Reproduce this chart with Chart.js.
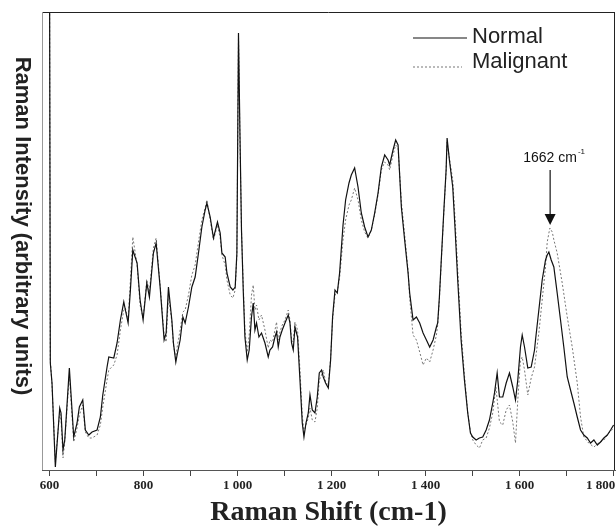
<!DOCTYPE html>
<html>
<head>
<meta charset="utf-8">
<script src="https://cdn.jsdelivr.net/npm/chart.js@4.4.1/dist/chart.umd.min.js"></script>
<style>
  html, body { margin: 0; padding: 0; background: #fff; }
  #ramanChart { display: block; }
</style>
</head>
<body>
<canvas id="ramanChart" width="616" height="530"></canvas>
<script>
// Raman shift (cm-1) / intensity
var normalShift = [600, 601.7, 605.3, 612.4, 621.7, 624.5, 628.7, 632.4, 642.2, 651.5, 658.6, 663.5, 670.7, 676.2, 683.5, 690.5,
  701.2, 708.2, 713.3, 722.4, 726.1, 736.7, 743.7, 750.8, 758, 761.4, 767.2, 772.1, 777.2, 786.3, 792.7, 799.1,
  807, 812.5, 821, 826.8, 835.3, 843.8, 848.1, 853, 860.2, 863.6, 868.7, 872.2, 877.9, 883.7, 888.5, 895.6,
  902.8, 909.8, 916.9, 924.1, 931.1, 934.8, 941.8, 948.8, 957.3, 963.1, 966.7, 973.7, 977.4, 984.4, 990.1, 995,
  998.6, 1002, 1005, 1008.4, 1012.1, 1015.7, 1020.6, 1024.8, 1029.7, 1033.4, 1037, 1040.4, 1045.5, 1051, 1058.3, 1065.3,
  1068.9, 1074.5, 1079.6, 1083, 1086.6, 1090.2, 1095.1, 1100.9, 1107.9, 1111.5, 1114.9, 1118.5, 1122.2, 1127.7, 1132.8, 1137.7,
  1141.3, 1145.6, 1150.5, 1154.1, 1159, 1164.7, 1169.6, 1173.9, 1178.8, 1182.4, 1187.3, 1193.1, 1198, 1202.2, 1207.3, 1212.2,
  1217.1, 1224.4, 1229.9, 1237.1, 1242, 1249.1, 1256.3, 1263.3, 1270.4, 1277.6, 1284.6, 1291.7, 1298.9, 1305.9, 1313, 1320.2,
  1323.6, 1330.8, 1336.4, 1341.5, 1348.5, 1355.5, 1362.8, 1366.2, 1373.4, 1380.5, 1387.5, 1394.7, 1401.8, 1408.8, 1416, 1423.1,
  1425.8, 1429.4, 1433.1, 1438.6, 1443.7, 1445.8, 1450.7, 1457.8, 1462.9, 1468.4, 1475.6, 1482.7, 1489.7, 1495.5, 1500.4, 1507.6,
  1514.6, 1521.6, 1528.9, 1535.9, 1542.9, 1546.6, 1552.3, 1557.2, 1564.2, 1571.5, 1578.5, 1585.5, 1591.3, 1596.2, 1601.9, 1605.6,
  1610.5, 1617.5, 1624.7, 1631.8, 1633.9, 1641, 1648.1, 1655.2, 1658.8, 1662.3, 1667.3, 1672.9, 1680, 1687.1, 1694.1, 1701.4,
  1708.4, 1715.5, 1722.7, 1729.7, 1736.7, 1744, 1751, 1758.1, 1765.3, 1772.3, 1779.3, 1786.6, 1793.6, 1800];
var normalIntensity = [520, 107, 87, 3, 62, 57, 20, 30, 102, 33, 47, 63, 70, 40, 35, 38,
  40, 53, 75, 103, 113, 112, 127, 150, 168, 160, 147, 180, 220, 207, 170, 150,
  187, 173, 217, 227, 183, 130, 137, 183, 150, 127, 108, 117, 130, 153, 147, 163,
  183, 193, 217, 243, 260, 267, 253, 232, 248, 237, 217, 213, 197, 183, 180, 183,
  217, 437, 340, 240, 180, 133, 110, 120, 153, 167, 140, 147, 133, 137, 127, 113,
  120, 123, 133, 138, 123, 133, 140, 147, 155, 147, 127, 120, 143, 133, 90, 47,
  33, 47, 57, 75, 60, 57, 73, 97, 100, 93, 87, 82, 110, 153, 180, 177,
  197, 245, 270, 287, 295, 302, 283, 257, 243, 233, 240, 257, 277, 303, 315, 310,
  305, 320, 330, 325, 263, 230, 197, 177, 150, 153, 147, 137, 130, 123, 130, 143,
  147, 173, 207, 257, 300, 332, 310, 283, 240, 190, 130, 90, 57, 37, 33, 30,
  32, 33, 40, 50, 67, 77, 97, 73, 73, 87, 97, 83, 70, 90, 123, 135,
  123, 102, 103, 120, 130, 160, 190, 210, 215, 218, 210, 203, 177, 150, 123, 93,
  80, 67, 53, 40, 35, 32, 27, 30, 25, 28, 32, 35, 40, 45];

var malignantShift = [600, 601.7, 605.3, 612.4, 621.7, 624.5, 628.7, 632.4, 642.2, 651.5, 658.6, 663.5, 670.7, 676.2, 683.5, 690.5,
  701.2, 708.2, 713.3, 722.4, 726.1, 736.7, 743.7, 750.8, 758, 761.4, 767.2, 772.1, 777.2, 786.3, 792.7, 799.1,
  807, 812.5, 821, 826.8, 835.3, 843.8, 848.1, 853, 860.2, 863.6, 868.7, 872.2, 877.9, 883.7, 888.5, 895.6,
  902.8, 909.8, 916.9, 924.1, 931.1, 934.8, 941.8, 948.8, 957.3, 963.1, 966.7, 973.7, 977.4, 984.4, 990.1, 995,
  998.6, 1002, 1005, 1008.4, 1012.1, 1015.7, 1020.6, 1024.8, 1029.7, 1033.4, 1037, 1040.4, 1045.5, 1051, 1058.3, 1065.3,
  1068.9, 1074.5, 1079.6, 1083, 1086.6, 1090.2, 1095.1, 1100.9, 1107.9, 1111.5, 1114.9, 1118.5, 1122.2, 1127.7, 1132.8, 1137.7,
  1141.3, 1145.6, 1150.5, 1154.1, 1159, 1164.7, 1169.6, 1173.9, 1178.8, 1182.4, 1187.3, 1193.1, 1198, 1202.2, 1207.3, 1212.2,
  1217.1, 1224.4, 1229.9, 1237.1, 1242, 1249.1, 1256.3, 1263.3, 1270.4, 1277.6, 1284.6, 1291.7, 1298.9, 1305.9, 1313, 1320.2,
  1323.6, 1330.8, 1336.4, 1341.5, 1348.5, 1355.5, 1362.8, 1366.2, 1373.4, 1380.5, 1387.5, 1394.7, 1401.8, 1408.8, 1416, 1423.1,
  1425.8, 1429.4, 1433.1, 1438.6, 1443.7, 1445.8, 1450.7, 1457.8, 1462.9, 1468.4, 1475.6, 1482.7, 1489.7, 1495.5, 1500.4, 1507.6,
  1514.6, 1521.6, 1528.9, 1535.9, 1542.9, 1549.6, 1557.2, 1564.2, 1571.5, 1578.5, 1585.5, 1591.3, 1596.2, 1601.9, 1605.6, 1610.5,
  1617.5, 1624.7, 1631.8, 1641, 1648.1, 1655.2, 1658.8, 1664.4, 1669.5, 1673, 1680, 1690.7, 1701.4, 1712, 1722.7, 1729.7,
  1736.7, 1747, 1758.1, 1768, 1779.3, 1790, 1800];
var malignantIntensity = [520, 110, 85, 8, 58, 50, 12, 28, 95, 28, 42, 55, 65, 38, 32, 32,
  35, 45, 63, 90, 100, 105, 115, 140, 160, 162, 150, 190, 233, 205, 165, 152,
  190, 178, 222, 232, 185, 135, 128, 175, 148, 125, 112, 125, 140, 158, 160, 175,
  195, 205, 228, 250, 262, 270, 250, 230, 245, 232, 215, 205, 190, 175, 172, 180,
  215, 435, 335, 240, 185, 140, 118, 135, 175, 185, 160, 165, 150, 155, 140, 122,
  130, 128, 140, 148, 130, 138, 145, 150, 160, 150, 130, 128, 148, 140, 100, 55,
  38, 45, 52, 62, 50, 48, 62, 90, 95, 100, 88, 85, 112, 150, 175, 178,
  192, 230, 250, 265, 270, 282, 270, 250, 238, 232, 240, 255, 275, 300, 308, 305,
  300, 315, 325, 322, 268, 235, 200, 172, 135, 130, 118, 105, 112, 108, 120, 135,
  145, 170, 205, 255, 298, 328, 312, 290, 250, 200, 138, 95, 58, 38, 30, 25,
  22, 30, 32, 42, 57, 83, 48, 45, 60, 65, 48, 27, 70, 110, 113, 100,
  75, 92, 103, 137, 170, 203, 228, 242, 238, 230, 217, 187, 153, 123, 87, 53,
  33, 27, 23, 27, 30, 37, 42];

var tickValues = [600, 700, 800, 900, 1000, 1100, 1200, 1300, 1400, 1500, 1600, 1700, 1800];
var tickLabels = ['600', '', '800', '', '1 000', '', '1 200', '', '1 400', '', '1 600', '', '1 800'];

// arrow annotation over the malignant amide I band
var peakShift = 1665;
var peakIntensity = 242;
var peakText = '1662 cm';
var peakSup = '-1';

function toPoints(xs, ys) {
  return xs.map(function (x, i) { return { x: x, y: ys[i] }; });
}

var framePlugin = {
  id: 'frame',
  afterDraw: function (chart) {
    var ctx = chart.ctx, a = chart.chartArea;
    ctx.save();
    ctx.lineWidth = 1;
    ctx.strokeStyle = '#222';
    ctx.beginPath();
    ctx.moveTo(a.left, a.top + 0.5);
    ctx.lineTo(a.right, a.top + 0.5);
    ctx.moveTo(a.right - 0.5, a.top);
    ctx.lineTo(a.right - 0.5, a.bottom);
    ctx.stroke();
    ctx.strokeStyle = '#999';
    ctx.beginPath();
    ctx.moveTo(a.left + 0.5, a.top);
    ctx.lineTo(a.left + 0.5, a.bottom);
    ctx.stroke();

    // y title, reading top to bottom
    ctx.translate(22, 226);
    ctx.rotate(Math.PI / 2);
    ctx.fillStyle = '#222';
    ctx.font = 'bold 22px "Liberation Sans", Arial, sans-serif';
    ctx.textAlign = 'center';
    ctx.textBaseline = 'middle';
    ctx.fillText('Raman Intensity (arbitrary units)', 0, 0);
    ctx.restore();
  }
};

var legendPlugin = {
  id: 'insideLegend',
  afterDraw: function (chart) {
    var ctx = chart.ctx, a = chart.chartArea;
    var rows = [26, 55];
    ctx.save();
    chart.data.datasets.forEach(function (ds, i) {
      var y = a.top + rows[i];
      ctx.strokeStyle = ds.borderColor;
      ctx.lineWidth = ds.borderWidth;
      ctx.setLineDash(ds.borderDash || []);
      ctx.beginPath();
      ctx.moveTo(a.right - 202, y);
      ctx.lineTo(a.right - (i === 0 ? 148 : 153), y);
      ctx.stroke();
      ctx.fillStyle = '#222';
      ctx.font = '22px "Liberation Sans", Arial, sans-serif';
      ctx.textBaseline = 'middle';
      ctx.fillText(ds.label, a.right - 143, y - (i === 0 ? 1 : 5));
    });
    ctx.restore();
  }
};

var arrowPlugin = {
  id: 'peakArrow',
  afterDraw: function (chart) {
    var ctx = chart.ctx;
    var x = chart.scales.x.getPixelForValue(peakShift);
    var tip = chart.scales.y.getPixelForValue(peakIntensity) - 3;
    ctx.save();
    ctx.strokeStyle = '#111';
    ctx.fillStyle = '#111';
    ctx.lineWidth = 1.2;
    ctx.beginPath();
    ctx.moveTo(x, tip - 55);
    ctx.lineTo(x, tip - 10);
    ctx.stroke();
    ctx.beginPath();
    ctx.moveTo(x - 5.5, tip - 11);
    ctx.lineTo(x + 5.5, tip - 11);
    ctx.lineTo(x, tip);
    ctx.closePath();
    ctx.fill();

    ctx.font = '14px "Liberation Sans", Arial, sans-serif';
    ctx.textBaseline = 'middle';
    var w1 = ctx.measureText(peakText).width;
    ctx.font = '8px "Liberation Sans", Arial, sans-serif';
    var w2 = ctx.measureText(peakSup).width;
    var left = x + 4 - (w1 + w2 + 1) / 2;
    ctx.font = '14px "Liberation Sans", Arial, sans-serif';
    ctx.fillText(peakText, left, tip - 67);
    ctx.font = '8px "Liberation Sans", Arial, sans-serif';
    ctx.fillText(peakSup, left + w1 + 1, tip - 73);
    ctx.restore();
  }
};

var chart = new Chart(document.getElementById('ramanChart'), {
  type: 'line',
  data: {
    datasets: [{
      label: 'Normal',
      data: toPoints(normalShift, normalIntensity),
      borderColor: '#111',
      borderWidth: 1.2,
      pointRadius: 0,
      tension: 0
    }, {
      label: 'Malignant',
      data: toPoints(malignantShift, malignantIntensity),
      borderColor: '#777',
      borderWidth: 1,
      borderDash: [2, 2],
      pointRadius: 0,
      tension: 0
    }]
  },
  options: {
    responsive: false,
    animation: false,
    events: [],
    layout: { padding: { left: 0, top: 12, right: 1, bottom: 0 } },
    plugins: {
      legend: { display: false },
      tooltip: { enabled: false }
    },
    scales: {
      x: {
        type: 'linear',
        min: 584,
        max: 1803,
        afterBuildTicks: function (axis) {
          axis.ticks = tickValues.map(function (v) { return { value: v }; });
        },
        afterFit: function (axis) {
          axis.height = 60;
          axis.paddingLeft = 0;
          axis.paddingRight = 0;
        },
        ticks: {
          autoSkip: false,
          maxRotation: 0,
          padding: 2,
          color: '#222',
          font: { family: '"Liberation Serif", "Times New Roman", serif', weight: 'bold', size: 13 },
          callback: function (value) {
            var i = tickValues.indexOf(value);
            if (i < 0) return '';
            // last label sits left of its tick so it stays inside the frame
            return i === tickValues.length - 1 ? tickLabels[i] + '\u2007\u2007\u2007\u2007' : tickLabels[i];
          }
        },
        grid: { drawOnChartArea: false, drawTicks: true, tickLength: 6, color: '#444' },
        border: { color: '#555' },
        title: {
          display: true,
          text: 'Raman Shift (cm-1)',
          color: '#222',
          font: { family: '"Liberation Serif", "Times New Roman", serif', weight: 'bold', size: 28 },
          padding: { top: 0, bottom: 0 }
        }
      },
      y: {
        min: 0,
        max: 458,
        afterFit: function (axis) { axis.width = 42; },
        ticks: { display: false },
        grid: { display: false },
        border: { display: false }
      }
    }
  },
  plugins: [framePlugin, legendPlugin, arrowPlugin]
});
</script>
</body>
</html>
